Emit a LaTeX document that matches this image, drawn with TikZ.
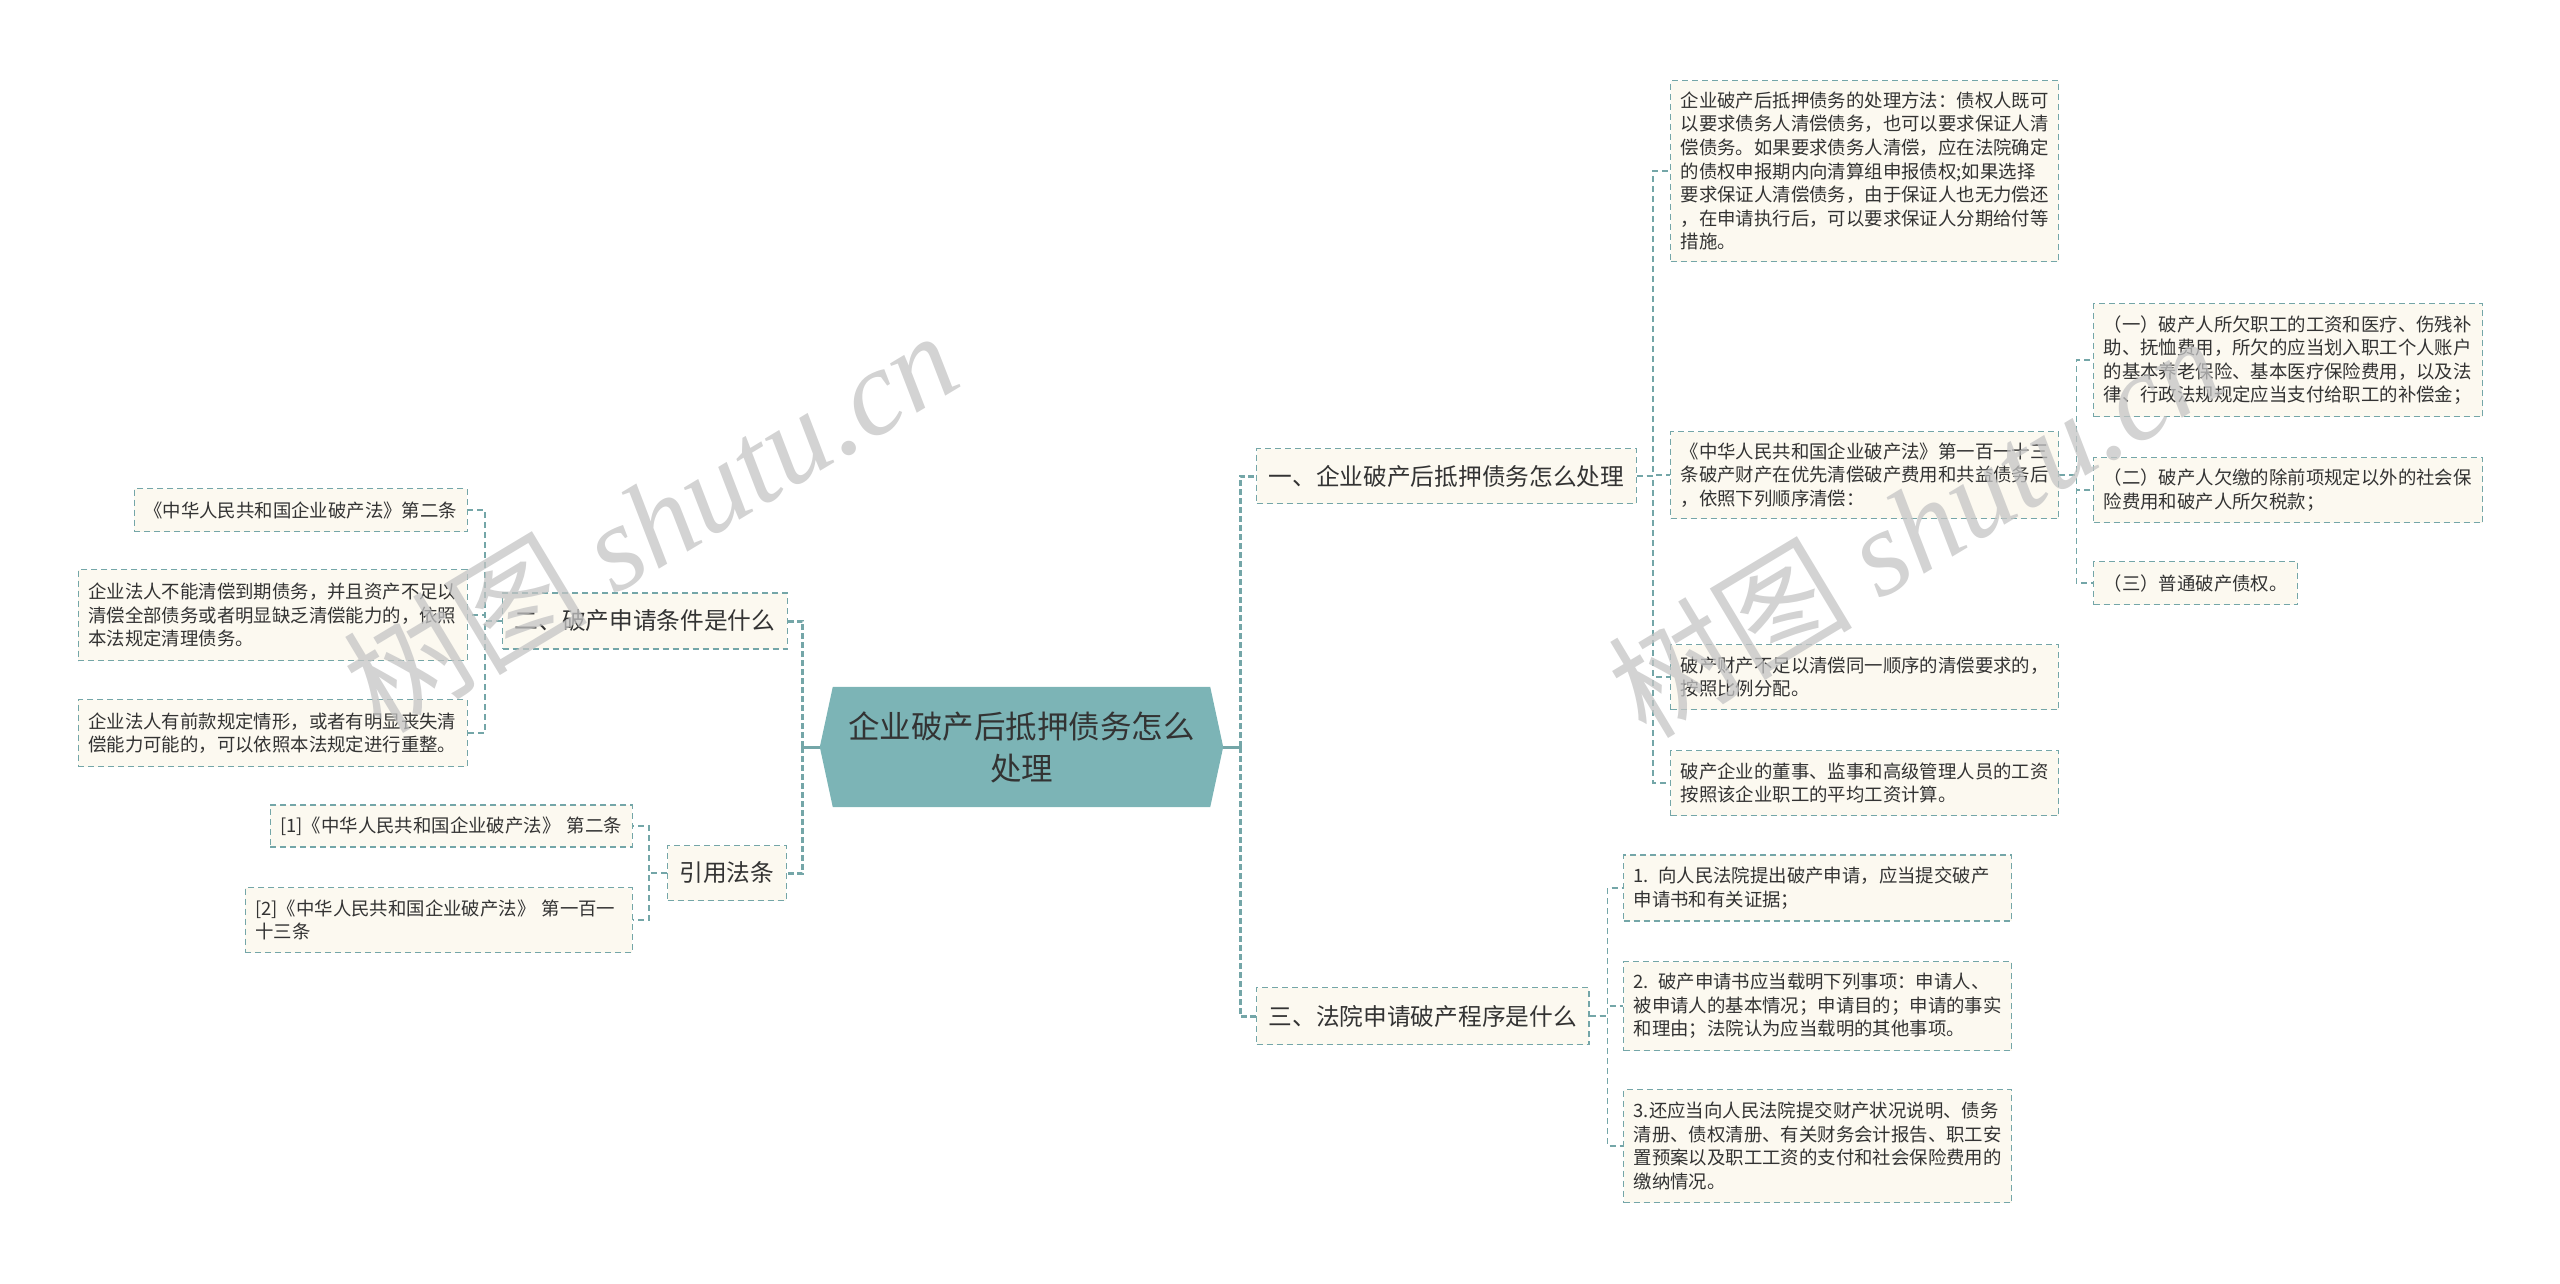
\documentclass[tikz,border=0pt]{standalone}
\usepackage{fontspec}
\setmainfont{Noto Sans CJK SC}
\newfontfamily\wmlatin{Liberation Serif}
\usetikzlibrary{backgrounds}
\definecolor{linec}{HTML}{74A6A8}
\definecolor{boxfill}{HTML}{FCF9F0}
\definecolor{rootfill}{HTML}{7CB4B6}
\definecolor{inkc}{HTML}{333333}
\definecolor{wmgray}{HTML}{C4C4C4}
\newcommand{\leaffont}{\fontsize{18.4}{23.6}\selectfont}
\newcommand{\branchfont}{\fontsize{23.7}{28}\selectfont}
\newcommand{\rootfont}{\fontsize{31.5}{42}\selectfont}
\begin{document}
\begin{tikzpicture}[x=1pt,y=-1pt,
  leaf/.style={draw=linec, line width=1.4pt, dash pattern=on 6pt off 4pt, fill=boxfill, text=inkc, font=\leaffont, align=left, inner xsep=10pt, inner ysep=0pt},
  branch/.style={leaf, font=\branchfont, inner xsep=12pt},
  link/.style={draw=linec, line width=1.4pt, dash pattern=on 6pt off 4pt},
  trunk/.style={draw=linec, line width=3pt, dash pattern=on 6pt off 3pt},
  stem/.style={draw=linec, line width=3pt},
  watermark/.style={text=wmgray, opacity=0.75, rotate=31, font=\fontsize{122}{122}\selectfont}]
\useasboundingbox (0,0) rectangle (2560,1283);

% root
\node[text=inkc, font=\rootfont, align=center, minimum width=377pt, minimum height=120pt, inner sep=0pt] (root) at (1021.5,747) {企业破产后抵押债务怎么\\处理};
\begin{scope}[on background layer]
\fill[rootfill] (root.north west) -- (root.north east) -- ([xshift=13pt]root.east) -- (root.south east) -- (root.south west) -- ([xshift=-13pt]root.west) -- cycle;
\end{scope}
\coordinate (rtip) at ([xshift=13pt]root.east);
\coordinate (ltip) at ([xshift=-13pt]root.west);

% right branches
\node[branch, anchor=west, minimum height=55pt] (r1) at (1256,476) {一、企业破产后抵押债务怎么处理};
\node[branch, anchor=west, minimum height=57pt] (r3) at (1256,1016) {三、法院申请破产程序是什么};

\node[leaf, anchor=west, text width=368pt, minimum height=181pt] (a1) at (1670,171) {企业破产后抵押债务的处理方法：债权人既可\\以要求债务人清偿债务，也可以要求保证人清\\偿债务。如果要求债务人清偿，应在法院确定\\的债权申报期内向清算组申报债权;如果选择\\要求保证人清偿债务，由于保证人也无力偿还\\，在申请执行后，可以要求保证人分期给付等\\措施。};
\node[leaf, anchor=west, text width=368pt, minimum height=87pt] (a2) at (1670,475) {《中华人民共和国企业破产法》第一百一十三\\条破产财产在优先清偿破产费用和共益债务后\\，依照下列顺序清偿：};
\node[leaf, anchor=west, text width=368pt, minimum height=65pt] (a3) at (1670,677) {破产财产不足以清偿同一顺序的清偿要求的，\\按照比例分配。};
\node[leaf, anchor=west, text width=368pt, minimum height=65pt] (a4) at (1670,783) {破产企业的董事、监事和高级管理人员的工资\\按照该企业职工的平均工资计算。};

\node[leaf, anchor=west, text width=369pt, minimum height=113pt] (b1) at (2093,360) {（一）破产人所欠职工的工资和医疗、伤残补\\助、抚恤费用，所欠的应当划入职工个人账户\\的基本养老保险、基本医疗保险费用，以及法\\律、行政法规规定应当支付给职工的补偿金；};
\node[leaf, anchor=west, text width=369pt, minimum height=65pt] (b2) at (2093,490) {（二）破产人欠缴的除前项规定以外的社会保\\险费用和破产人所欠税款；};
\node[leaf, anchor=west, text width=184pt, minimum height=43pt] (b3) at (2093,583) {（三）普通破产债权。};

\node[leaf, anchor=west, text width=368pt, minimum height=66pt] (c1) at (1623,888) {1. 向人民法院提出破产申请，应当提交破产\\申请书和有关证据；};
\node[leaf, anchor=west, text width=368pt, minimum height=89pt] (c2) at (1623,1006) {2. 破产申请书应当载明下列事项：申请人、\\被申请人的基本情况；申请目的；申请的事实\\和理由；法院认为应当载明的其他事项。};
\node[leaf, anchor=west, text width=368pt, minimum height=113pt] (c3) at (1623,1146) {3.还应当向人民法院提交财产状况说明、债务\\清册、债权清册、有关财务会计报告、职工安\\置预案以及职工工资的支付和社会保险费用的\\缴纳情况。};

% left branches
\node[branch, anchor=east, minimum height=56pt] (l1) at (788,621) {二、破产申请条件是什么};
\node[branch, anchor=east, minimum height=55pt] (l2) at (787,873) {引用法条};

\node[leaf, anchor=east, text width=313pt, minimum height=43pt] (d1) at (468,510) {《中华人民共和国企业破产法》第二条};
\node[leaf, anchor=east, text width=369pt, minimum height=91pt] (d2) at (468,615) {企业法人不能清偿到期债务，并且资产不足以\\清偿全部债务或者明显缺乏清偿能力的，依照\\本法规定清理债务。};
\node[leaf, anchor=east, text width=369pt, minimum height=67pt] (d3) at (468,733) {企业法人有前款规定情形，或者有明显丧失清\\偿能力可能的，可以依照本法规定进行重整。};

\node[leaf, anchor=east, text width=342pt, minimum height=42pt] (e1) at (633,826) {[1]《中华人民共和国企业破产法》 第二条};
\node[leaf, anchor=east, text width=367pt, minimum height=65pt] (e2) at (633,920) {[2]《中华人民共和国企业破产法》 第一百一\\十三条};

% connectors
\draw[stem] (rtip) -- ++(17,0) coordinate (rjoin);
\draw[stem] (ltip) -- ++(-17,0) coordinate (ljoin);
\draw[trunk] (rjoin) |- (r1.west);
\draw[trunk] (rjoin) |- (r3.west);
\draw[trunk] (ljoin) |- (l1.east);
\draw[trunk] (ljoin) |- (l2.east);

\foreach \n in {a1,a2,a3,a4} \draw[link] (r1.east) -- ++(16,0) |- (\n.west);
\foreach \n in {b1,b2,b3} \draw[link] (a2.east) -- ++(17,0) |- (\n.west);
\foreach \n in {c1,c2,c3} \draw[link] (r3.east) -- ++(18,0) |- (\n.west);
\foreach \n in {d1,d2,d3} \draw[link] (l1.west) -- ++(-17,0) |- (\n.east);
\foreach \n in {e1,e2} \draw[link] (l2.west) -- ++(-18,0) |- (\n.east);

% watermark
\node[watermark] (wm1) at (650,520) {树图 {\wmlatin\itshape shutu.cn}};
\node[watermark] (wm2) at (1915,525) {树图 {\wmlatin\itshape shutu.cn}};
\end{tikzpicture}
\end{document}
